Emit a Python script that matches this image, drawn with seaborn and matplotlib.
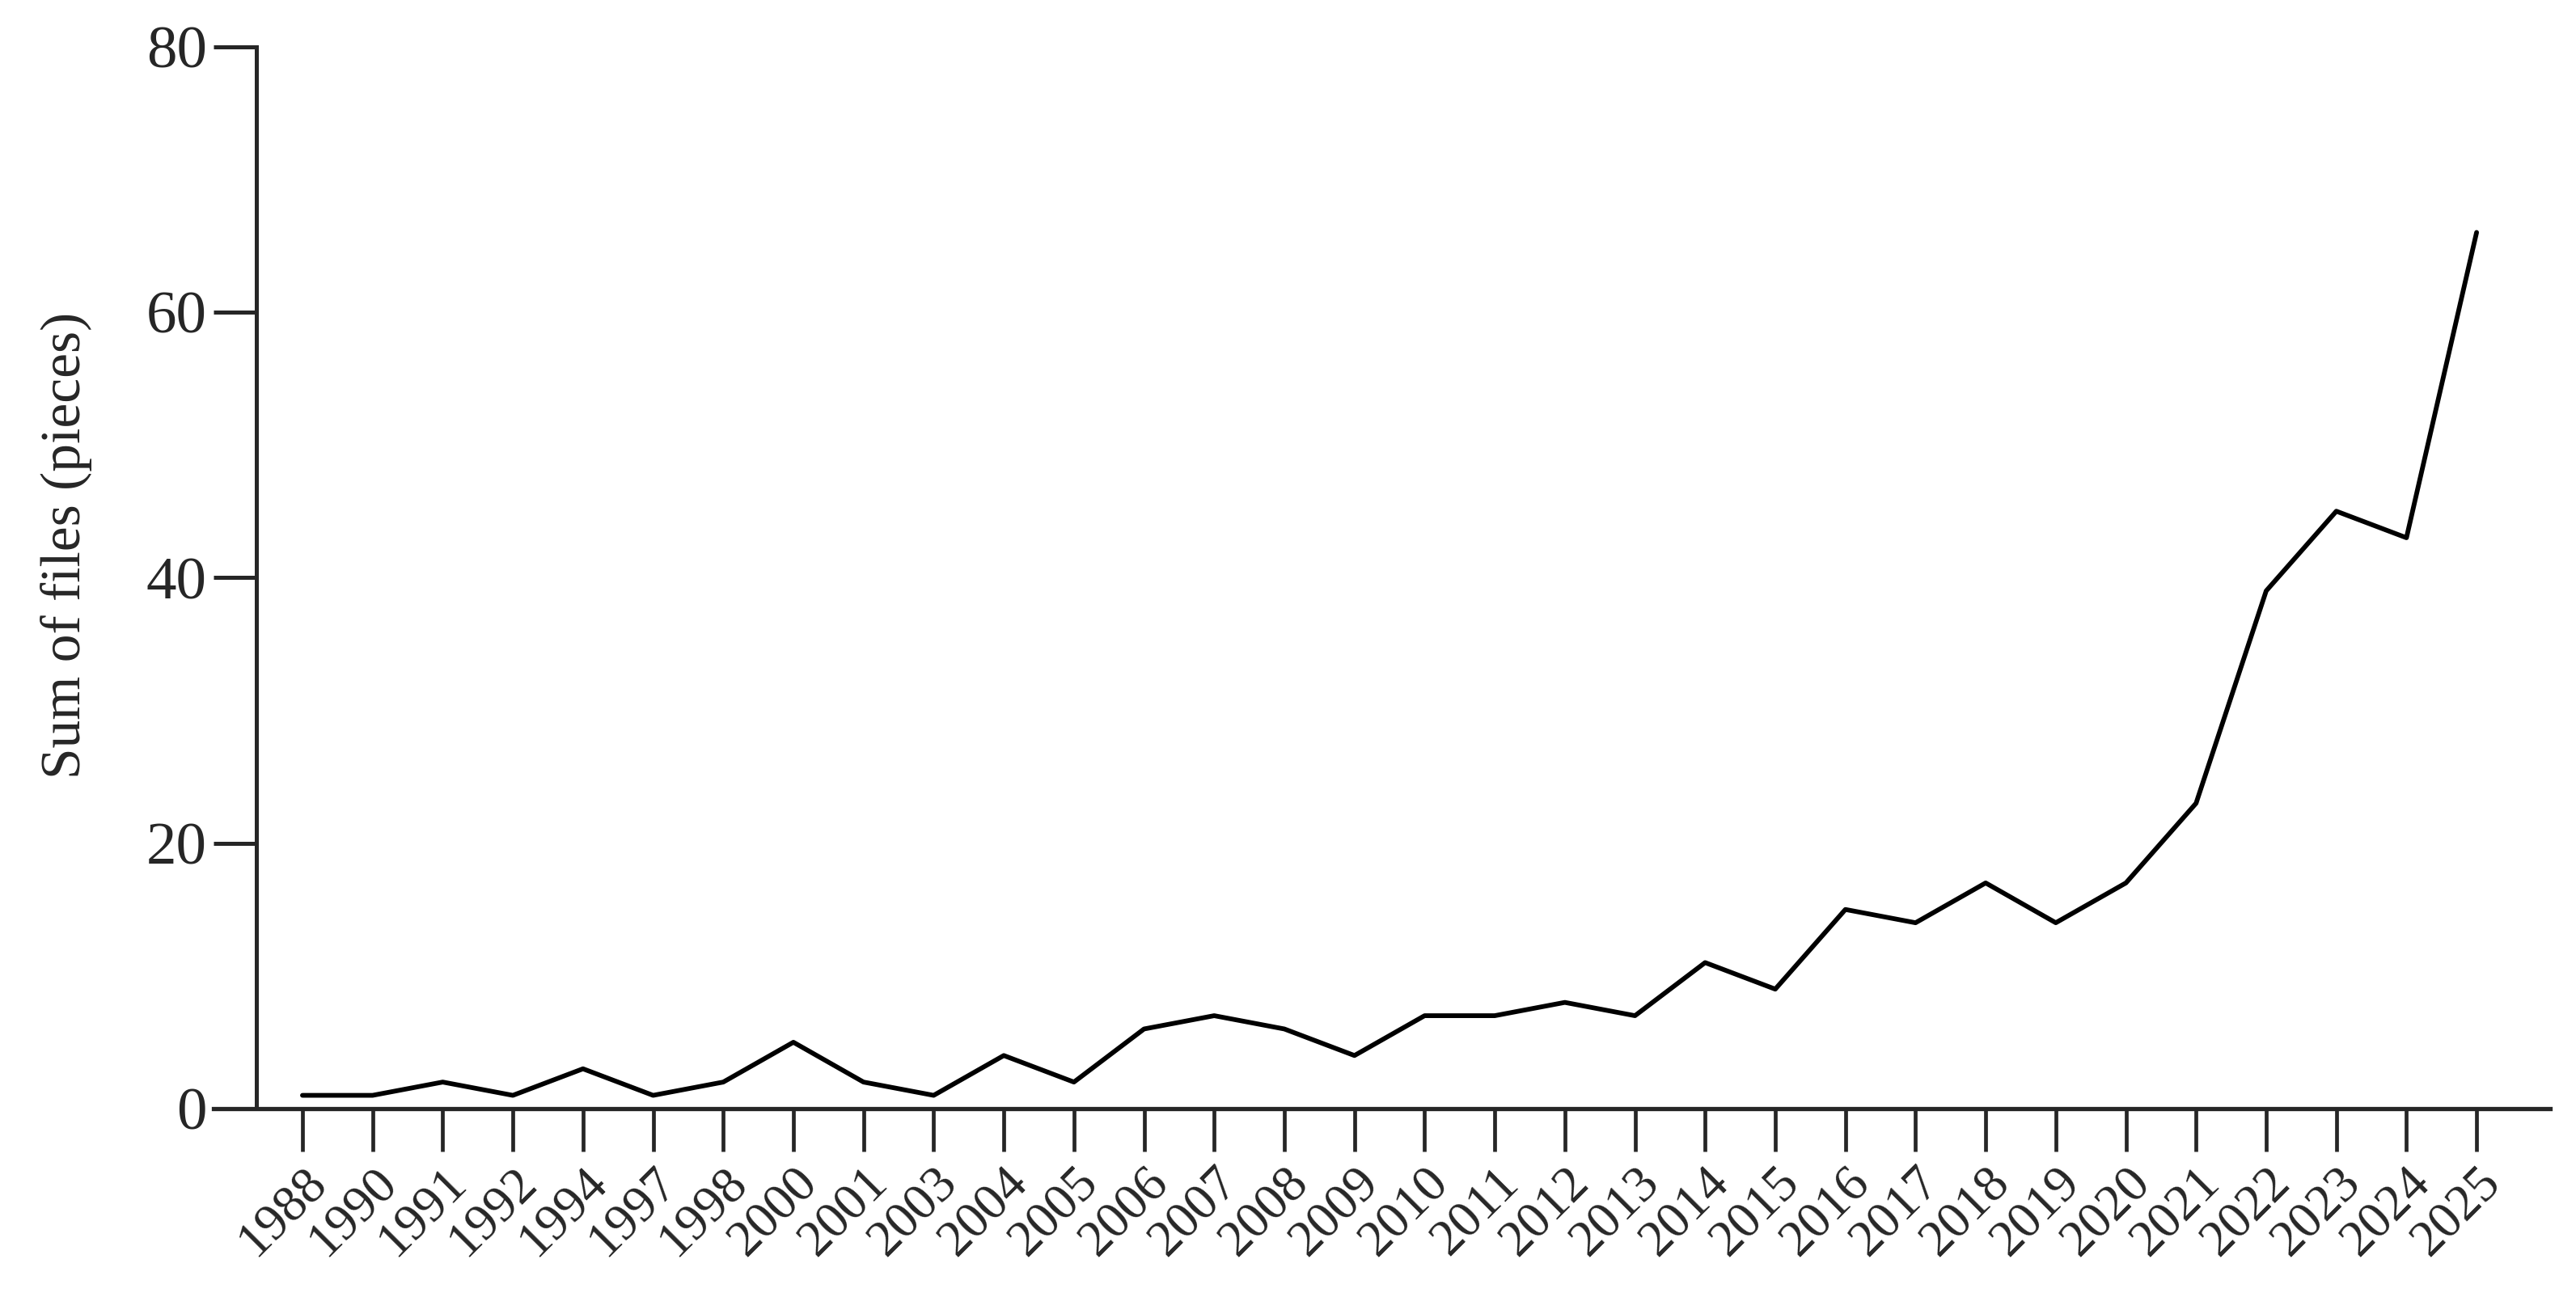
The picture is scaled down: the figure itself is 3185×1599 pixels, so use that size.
import matplotlib
matplotlib.use("Agg")
import matplotlib.pyplot as plt
import seaborn as sns
import pandas as pd

years = ["1988", "1990", "1991", "1992", "1994", "1997", "1998", "2000", "2001", "2003",
         "2004", "2005", "2006", "2007", "2008", "2009", "2010", "2011", "2012", "2013",
         "2014", "2015", "2016", "2017", "2018", "2019", "2020", "2021", "2022", "2023",
         "2024", "2025"]
counts = [1, 1, 2, 1, 3, 1, 2, 5, 2, 1,
          4, 2, 6, 7, 6, 4, 7, 7, 8, 7,
          11, 9, 15, 14, 17, 14, 17, 23, 39, 45,
          43, 66]
y_ticks = [0, 20, 40, 60, 80]
y_label = "Sum of files (pieces)"

df = pd.DataFrame({"year": years, "count": counts})

sns.set_style("ticks")
plt.rcParams["font.family"] = ["Liberation Serif", "DejaVu Serif"]

fig = plt.figure(figsize=(31.85, 15.99), dpi=100)
ax = fig.add_axes([0.083, 0.1426, 0.907, 0.8214])

sns.lineplot(data=df, x="year", y="count", sort=False, color="black",
             linewidth=4.2, ax=ax)

n = len(years)
ax.set_xlim(-1.264, n - 1 + 1.05)
ax.set_ylim(0, 80)
ax.set_yticks(y_ticks)
ax.set_xticks(range(n))
ax.set_xticklabels(years, rotation=45, ha="right", va="top", rotation_mode="anchor")

sns.despine(ax=ax)
ax.spines["left"].set_position(("data", -0.656))
ax.spines["left"].set_linewidth(3.6)
ax.spines["bottom"].set_linewidth(3.8)

ax.tick_params(axis="y", direction="out", length=38, width=3.6, labelsize=54, pad=6)
ax.tick_params(axis="x", direction="out", length=38, width=3.4, labelsize=46, pad=7)

ax.set_xlabel("")
ax.set_ylabel(y_label, fontsize=50)
ax.yaxis.set_label_coords(-0.052, 0.53)

fig.savefig("out.png", dpi=100, facecolor="white")
